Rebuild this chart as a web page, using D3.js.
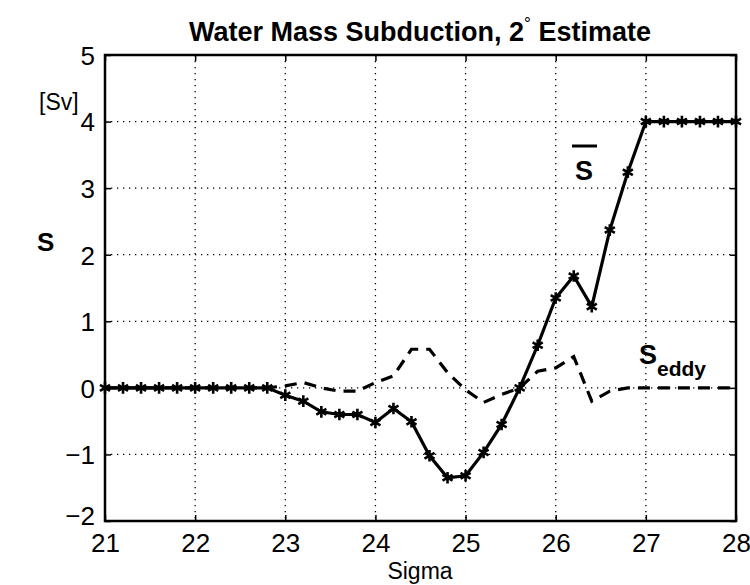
<!DOCTYPE html>
<html><head><meta charset="utf-8">
<script src="https://cdn.jsdelivr.net/npm/d3@7"></script>
<style>body{margin:0;background:#fff}svg{display:block}text{font-family:"Liberation Sans",Arial,sans-serif;fill:#000}</style>
</head><body><svg id="c" width="750" height="585"></svg>
<script>
const sigma = [21,21.2,21.4,21.6,21.8,22,22.2,22.4,22.6,22.8,23,23.2,23.4,23.6,23.8,24,24.2,24.4,24.6,24.8,25,25.2,25.4,25.6,25.8,26,26.2,26.4,26.6,26.8,27,27.2,27.4,27.6,27.8,28];
const sMean = [0,0,0,0,0,0,0,0,0,0,-0.11,-0.2,-0.36,-0.4,-0.4,-0.52,-0.31,-0.51,-1.02,-1.35,-1.32,-0.97,-0.55,0,0.64,1.35,1.68,1.22,2.37,3.24,4,4,4,4,4,4];
const sEddy = [0,0,0,0,0,0,0,0,0,0,0.03,0.08,0.0,-0.05,-0.05,0.08,0.18,0.58,0.58,0.23,-0.03,-0.22,-0.1,0,0.25,0.3,0.47,-0.2,-0.05,0,0,0,0,0,0,0];
const xTicks = [21,22,23,24,25,26,27,28];
const yTicks = [-2,-1,0,1,2,3,4,5];
const titleText = "Water Mass Subduction, 2";
const titleEnd = " Estimate";

const svg = d3.select("#c");
const L=105, R=736, T=55, B=521;
const x = d3.scaleLinear().domain([21,28]).range([L,R]);
const y = d3.scaleLinear().domain([-2,5]).range([B,T]);

// grid
const g = svg.append("g");
g.selectAll(".gx").data(xTicks.slice(1,-1)).join("line")
 .attr("x1",d=>x(d)).attr("x2",d=>x(d)).attr("y1",T).attr("y2",B)
 .attr("stroke","#000").attr("stroke-width",1.3).attr("stroke-dasharray","1.3,4.7");
g.selectAll(".gy").data(yTicks.slice(1,-1)).join("line")
 .attr("y1",d=>y(d)).attr("y2",d=>y(d)).attr("x1",L).attr("x2",R)
 .attr("stroke","#000").attr("stroke-width",1.3).attr("stroke-dasharray","1.3,4.7");

// axes with inward ticks
const ax = svg.append("g").attr("transform",`translate(0,${B})`).call(d3.axisBottom(x).tickValues(xTicks).tickSize(-6).tickPadding(13).tickFormat(d3.format("d")));
const ax2 = svg.append("g").attr("transform",`translate(0,${T})`).call(d3.axisTop(x).tickValues(xTicks).tickSize(-6).tickFormat(""));
const ay = svg.append("g").attr("transform",`translate(${L},0)`).call(d3.axisLeft(y).tickValues(yTicks).tickSize(-6).tickPadding(10).tickFormat(d=>d<0?"\u2212"+Math.abs(d):d));
const ay2 = svg.append("g").attr("transform",`translate(${R},0)`).call(d3.axisRight(y).tickValues(yTicks).tickSize(-6).tickFormat(""));
[ax,ax2,ay,ay2].forEach(a=>{a.select(".domain").remove();a.selectAll("line").attr("stroke","#000").attr("stroke-width",1.5);a.selectAll("text").style("font-size","26px").attr("font-family","Liberation Sans, Arial, sans-serif");});
ax.selectAll("text").attr("dy","0.71em");
ay.selectAll("text").attr("dy","0.36em");
ay.selectAll(".tick").filter(d=>d===-2).select("text").attr("dy","0.15em");
svg.append("rect").attr("x",L).attr("y",T).attr("width",R-L).attr("height",B-T).attr("fill","none").attr("stroke","#000").attr("stroke-width",2.5);

// lines
const line = d3.line().x((d,i)=>x(sigma[i])).y(d=>y(d));
svg.append("path").datum(sEddy).attr("d",line).attr("fill","none").attr("stroke","#000").attr("stroke-width",3.2).attr("stroke-dasharray","12,8");
svg.append("path").datum(sMean).attr("d",line).attr("fill","none").attr("stroke","#000").attr("stroke-width",3.2).attr("stroke-linejoin","miter");
const sym = d3.symbol().type(d3.symbolAsterisk).size(95);
svg.selectAll(".m").data(sMean).join("path").attr("d",sym)
 .attr("transform",(d,i)=>`translate(${x(sigma[i])},${y(d)})`).attr("fill","none").attr("stroke","#000").attr("stroke-width",2.6);

// text
const t = svg.append("text").attr("x",420).attr("y",41).attr("text-anchor","middle").attr("font-weight","bold").style("font-size","27px");
t.append("tspan").text(titleText);
t.append("tspan").text("\u00B0").attr("dy",-12).style("font-size","17px").attr("font-weight","normal");
t.append("tspan").text(titleEnd).attr("dy",12);
svg.append("text").attr("x",420).attr("y",579).attr("text-anchor","middle").style("font-size","23px").text("Sigma");
svg.append("text").attr("x",39).attr("y",110).style("font-size","23px").text("[Sv]");
svg.append("text").attr("x",37).attr("y",251).style("font-size","26px").attr("font-weight","bold").text("S");
svg.append("text").attr("x",584).attr("y",180).attr("text-anchor","middle").style("font-size","27px").attr("font-weight","bold").text("S");
svg.append("line").attr("x1",572).attr("x2",597).attr("y1",146).attr("y2",146).attr("stroke","#000").attr("stroke-width",3);
const se = svg.append("text").attr("x",639).attr("y",364).style("font-size","27px").attr("font-weight","bold");
se.append("tspan").text("S");
se.append("tspan").text("eddy").attr("dy",12).style("font-size","21px");
</script></body></html>
